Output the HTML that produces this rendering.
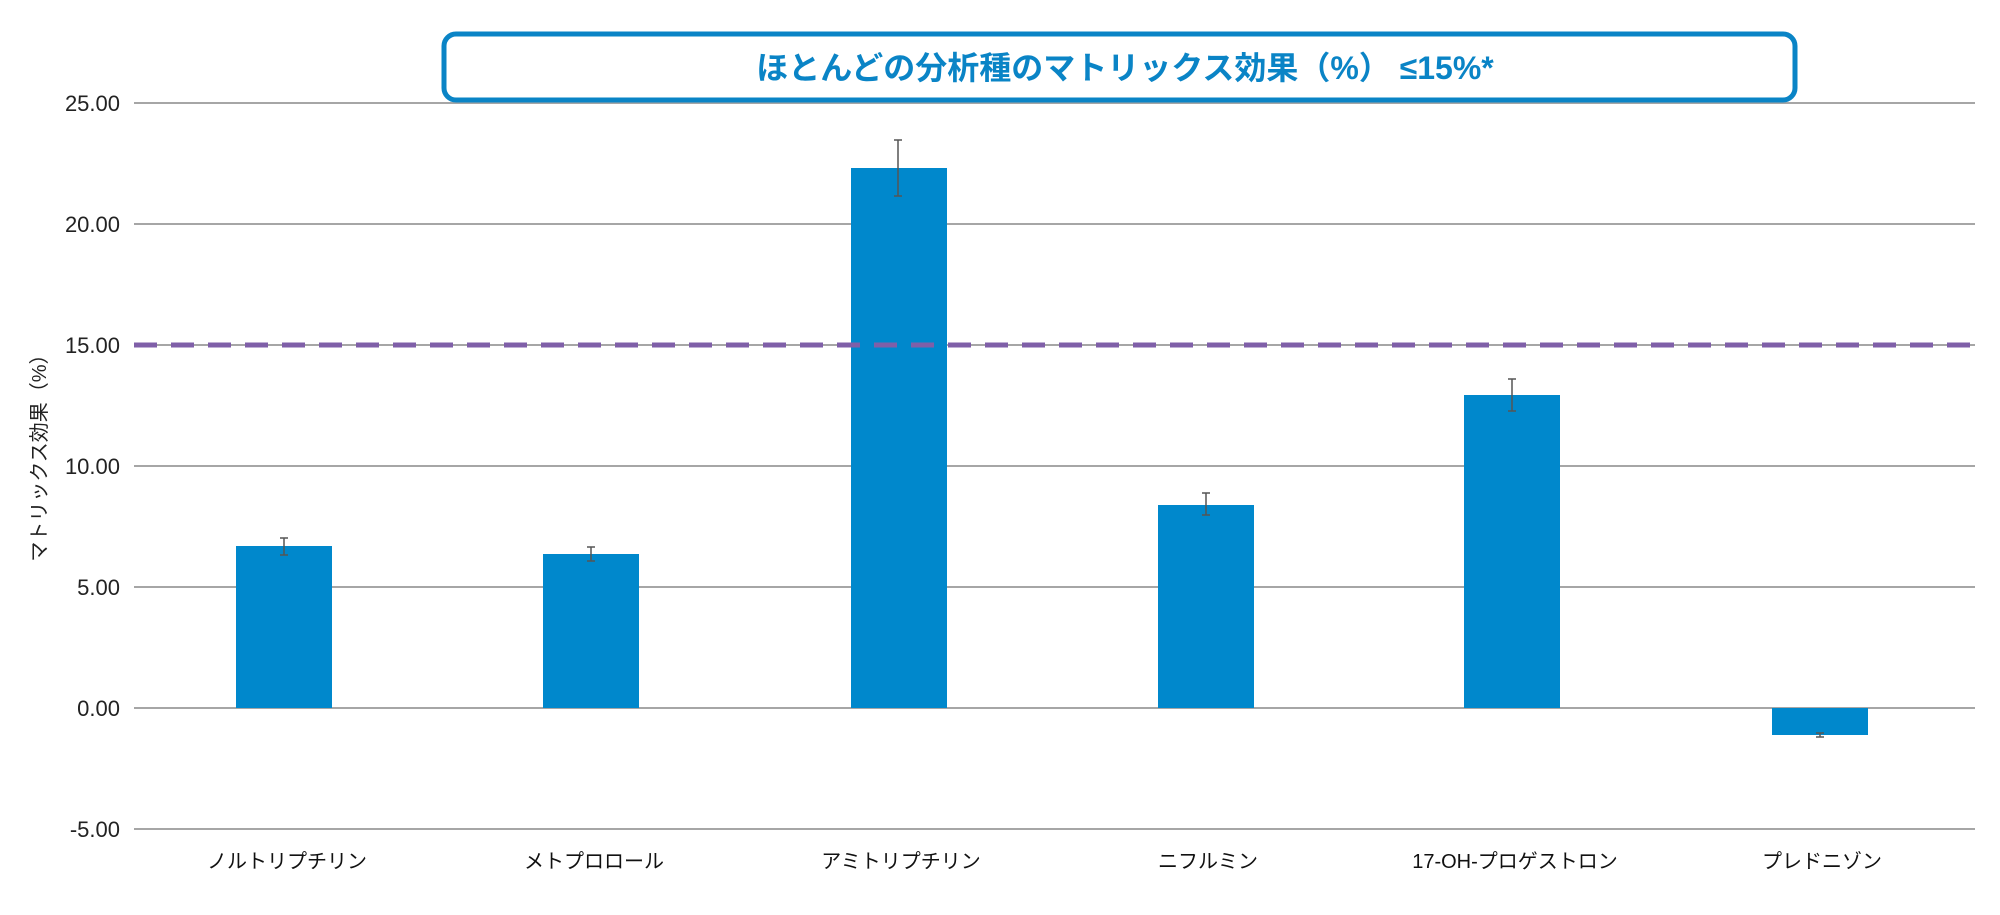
<!DOCTYPE html>
<html><head><meta charset="utf-8"><style>
body{margin:0;background:#fff;}
svg text{font-family:"Liberation Sans","Noto Sans CJK JP",sans-serif;}
</style></head><body>
<svg width="2000" height="910" viewBox="0 0 2000 910" xmlns="http://www.w3.org/2000/svg">
<g stroke="#a6a6a6" stroke-width="2">
<line x1="134" x2="1975" y1="103" y2="103"/>
<line x1="134" x2="1975" y1="224" y2="224"/>
<line x1="134" x2="1975" y1="345" y2="345"/>
<line x1="134" x2="1975" y1="466" y2="466"/>
<line x1="134" x2="1975" y1="587" y2="587"/>
<line x1="134" x2="1975" y1="708" y2="708"/>
<line x1="134" x2="1975" y1="829" y2="829"/>
</g>
<g font-size="22" fill="#222" text-anchor="end">
<text x="120" y="111">25.00</text>
<text x="120" y="232">20.00</text>
<text x="120" y="353">15.00</text>
<text x="120" y="474">10.00</text>
<text x="120" y="595">5.00</text>
<text x="120" y="716">0.00</text>
<text x="120" y="837">-5.00</text>
</g>
<text transform="translate(46,453) rotate(-90)" font-size="20" fill="#222" text-anchor="middle">マトリックス効果（%）</text>
<g fill="#0088cc">
<rect x="236" y="546" width="96" height="162"/>
<rect x="543" y="554" width="96" height="154"/>
<rect x="851" y="168" width="96" height="540"/>
<rect x="1158" y="505" width="96" height="203"/>
<rect x="1464" y="395" width="96" height="313"/>
<rect x="1772" y="708" width="96" height="27"/>
</g>
<g stroke="#555" stroke-width="1.5">
<path d="M284 538V555M280 538h8M280 555h8"/>
<path d="M591 547V561M587 547h8M587 561h8"/>
<path d="M898 140V196M894 140h8M894 196h8"/>
<path d="M1206 493V515M1202 493h8M1202 515h8"/>
<path d="M1512 379V411M1508 379h8M1508 411h8"/>
<path d="M1820 733V737M1816 733h8M1816 737h8"/>
</g>
<line x1="134" x2="1975" y1="345" y2="345" stroke="#7f5fa8" stroke-width="5" stroke-dasharray="23 14"/>
<g font-size="20" fill="#111" text-anchor="middle">
<text x="287" y="868">ノルトリプチリン</text>
<text x="594" y="868">メトプロロール</text>
<text x="901" y="868">アミトリプチリン</text>
<text x="1208" y="868">ニフルミン</text>
<text x="1515" y="868">17-OH-プロゲストロン</text>
<text x="1822" y="868">プレドニゾン</text>
</g>
<rect x="444" y="34" width="1351" height="66" rx="12" fill="#fff" stroke="#0a84c6" stroke-width="5"/>
<text x="1125" y="79" font-size="32" font-weight="bold" fill="#0a84c6" text-anchor="middle">ほとんどの分析種のマトリックス効果（%） ≤15%*</text>
</svg>
</body></html>
